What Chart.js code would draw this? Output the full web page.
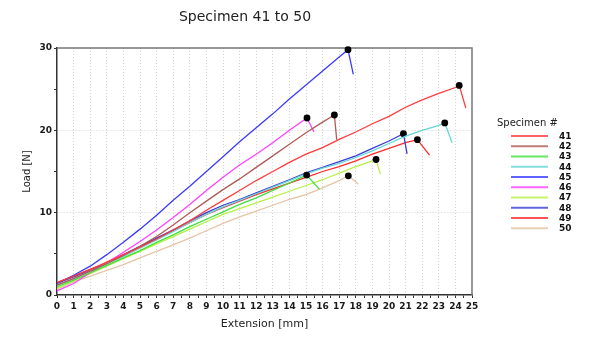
<!DOCTYPE html>
<html>
<head>
<meta charset="utf-8">
<script src="https://cdn.jsdelivr.net/npm/chart.js@4.4.1/dist/chart.umd.min.js"></script>
<style>
html,body{margin:0;padding:0;background:#fff;}
#wrap{width:593px;height:359px;position:relative;}
</style>
</head>
<body>
<div id="wrap"><canvas id="c" width="593" height="359"></canvas></div>
<script>
const chartTitle = 'Specimen 41 to 50';
const legendTitle = 'Specimen #';
const xTitle = 'Extension [mm]';
const yTitle = 'Load [N]';
const specimens = ['41','42','43','44','45','46','47','48','49','50'];
const colors = ['#ff3b3b','#b05a55','#3ee03e','#66d6d6','#3a3aff','#ff40ff','#b8f048','#3c3cd8','#ff2a2a','#e6c4a6'];

const ext41 = [0,1,2,3,4,5,6,7,8,9,10,11,12,13,14,15,16,17,18,19,20,21,22,23,24,24.23,24.63];
const load41 = [1.5,2.3,3.1,4.0,4.9,5.8,6.8,7.9,9.0,10.3,11.5,12.7,13.9,15.0,16.1,17.1,17.9,18.9,19.8,20.8,21.7,22.8,23.7,24.5,25.2,25.46,22.7];
const ext42 = [0,1,2,3,4,5,6,7,8,9,10,11,12,13,14,15,16,16.71,16.85];
const load42 = [1.2,2.0,2.9,3.8,4.8,5.9,7.1,8.5,10.0,11.4,12.8,14.1,15.5,16.9,18.3,19.7,21.0,21.86,18.86];
const ext43 = [0,1,2,3,4,5,6,7,8,9,10,11,12,13,14,15.04,15.8];
const load43 = [1.0,1.8,2.7,3.6,4.5,5.4,6.4,7.3,8.3,9.2,10.1,11.0,11.8,12.7,13.6,14.56,12.86];
const ext44 = [0,1,2,3,4,5,6,7,8,9,10,11,12,13,14,15,16,17,18,19,20,21,22,23,23.36,23.8];
const load44 = [1.2,2.0,2.9,3.8,4.7,5.7,6.7,7.7,8.8,9.8,10.7,11.5,12.3,13.1,13.9,14.7,15.4,16.0,16.7,17.5,18.4,19.3,20.0,20.6,20.9,18.5];
const ext45 = [0,1,2,3,4,5,6,7,8,9,10,11,12,13,14,15,16,17,17.53,17.85];
const load45 = [1.4,2.4,3.5,4.9,6.4,8.0,9.7,11.5,13.2,15.0,16.8,18.6,20.3,22.0,23.8,25.5,27.2,28.9,29.8,26.8];
const ext46 = [0,1,2,3,4,5,6,7,8,9,10,11,12,13,14,15.06,15.48];
const load46 = [0.5,1.4,2.7,3.9,5.2,6.5,7.9,9.4,11.0,12.7,14.3,15.8,17.1,18.5,20.0,21.5,19.8];
const ext47 = [0,1,2,3,4,5,6,7,8,9,10,11,12,13,14,15,16,17,18,19,19.22,19.48];
const load47 = [0.8,1.7,2.6,3.5,4.4,5.3,6.2,7.1,8.0,8.9,9.8,10.5,11.2,11.9,12.6,13.3,14.0,14.8,15.6,16.3,16.46,14.68];
const ext48 = [0,1,2,3,4,5,6,7,8,9,10,11,12,13,14,15,16,17,18,19,20,20.87,21.09];
const load48 = [1.4,2.2,3.0,3.9,4.9,5.9,6.9,7.9,9.0,10.0,10.9,11.6,12.4,13.2,14.0,14.85,15.5,16.2,16.9,17.8,18.7,19.6,17.15];
const ext49 = [0,1,2,3,4,5,6,7,8,9,10,11,12,13,14,15,16,17,18,19,20,21,21.71,22.44];
const load49 = [1.5,2.3,3.1,3.9,4.8,5.8,6.8,7.8,8.8,9.8,10.6,11.4,12.2,12.9,13.6,14.3,15.0,15.6,16.3,17.1,17.8,18.5,18.86,17.0];
const ext50 = [0,1,2,3,4,5,6,7,8,9,10,11,12,13,14,15,16,17,17.55,18.15];
const load50 = [0.7,1.6,2.3,3.0,3.7,4.5,5.3,6.1,6.9,7.8,8.7,9.5,10.2,10.9,11.6,12.2,13.0,13.9,14.48,13.47];

const exts = [ext41,ext42,ext43,ext44,ext45,ext46,ext47,ext48,ext49,ext50];
const loads = [load41,load42,load43,load44,load45,load46,load47,load48,load49,load50];

const xMin = 0, xMax = 25, xStep = 0.5;
const yMin = 0, yMax = 30, yStep = 5;

const FONT = 'DejaVu Sans';

const datasets = specimens.map((s, i) => {
  const pts = exts[i].map((x, j) => ({x: x, y: loads[i][j]}));
  const peak = pts.length - 2;
  return {
    label: s,
    data: pts,
    borderColor: colors[i],
    backgroundColor: colors[i],
    borderWidth: 1.3,
    showLine: true,
    tension: 0,
    clip: false,
    pointRadius: ctx => ctx.dataIndex === peak ? 3.4 : 0,
    pointHoverRadius: 0,
    pointBackgroundColor: '#000',
    pointBorderColor: '#000',
    pointBorderWidth: 0
  };
});

const decor = {
  id: 'decor',
  beforeDatasetsDraw(chart) {
    const {ctx, chartArea: a} = chart;
    ctx.save();
    ctx.strokeStyle = '#777';
    ctx.lineWidth = 1.5;
    ctx.beginPath();
    ctx.moveTo(a.left, a.top);
    ctx.lineTo(a.right, a.top);
    ctx.lineTo(a.right, a.bottom);
    ctx.stroke();
    ctx.restore();
  },
  afterDraw(chart) {
    const {ctx} = chart;
    ctx.save();
    ctx.fillStyle = '#222';
    ctx.font = '14px "' + FONT + '"';
    ctx.textAlign = 'center';
    ctx.textBaseline = 'middle';
    ctx.fillText(chartTitle, 245, 17);
    // legend
    ctx.font = '10px "' + FONT + '"';
    ctx.textAlign = 'left';
    ctx.fillStyle = '#222';
    ctx.fillText(legendTitle, 497, 123);
    chart.data.datasets.forEach((d, i) => {
      const y = 136 + i * 10.26;
      ctx.strokeStyle = d.borderColor;
      ctx.globalAlpha = 0.8;
      ctx.lineWidth = 2;
      ctx.beginPath();
      ctx.moveTo(511, y);
      ctx.lineTo(548, y);
      ctx.stroke();
      ctx.globalAlpha = 1;
      ctx.fillStyle = '#111';
      ctx.font = 'bold 9px "' + FONT + '"';
      ctx.fillText(d.label, 559, y + 0.5);
    });
    ctx.restore();
  }
};

new Chart(document.getElementById('c'), {
  type: 'scatter',
  data: {datasets},
  options: {
    responsive: false,
    animation: false,
    events: [],
    layout: {padding: {left: 0, top: 48, right: 121, bottom: 0}},
    plugins: {legend: {display: false}, title: {display: false}, tooltip: {enabled: false}},
    scales: {
      x: {
        type: 'linear',
        min: xMin, max: xMax,
        afterFit(s) { s.height = 64; },
        afterBuildTicks(s) {
          const t = [];
          for (let v = xMin; v <= xMax + 1e-9; v += xStep) t.push({value: Math.round(v * 10) / 10});
          s.ticks = t;
        },
        ticks: {
          autoSkip: false,
          maxRotation: 0,
          padding: 3,
          color: '#1a1a1a',
          font: {family: FONT, size: 9, weight: 'bold'},
          callback: v => Number.isInteger(v) ? String(v) : ''
        },
        grid: {
          color: ctx => (ctx.tick && Number.isInteger(ctx.tick.value) && ctx.tick.value > xMin && ctx.tick.value < xMax) ? '#d4d4d4' : 'rgba(0,0,0,0)',
          lineWidth: 1,
          tickLength: 3,
          tickColor: '#333',
          tickWidth: 1
        },
        border: {display: true, color: '#333', width: 1.5, dash: [1, 2]},
        title: {display: true, text: xTitle, color: '#222', font: {family: FONT, size: 11}, padding: {top: 0, bottom: 28.4}}
      },
      y: {
        type: 'linear',
        min: yMin, max: yMax,
        afterFit(s) { s.width = 57; },
        ticks: {
          stepSize: yStep,
          autoSkip: false,
          padding: 2,
          color: '#1a1a1a',
          font: {family: FONT, size: 9, weight: 'bold'},
          callback: v => v % 10 === 0 ? String(v) : ''
        },
        grid: {
          color: ctx => (ctx.tick && ctx.tick.value % 10 === 0 && ctx.tick.value > yMin && ctx.tick.value < yMax) ? '#d4d4d4' : 'rgba(0,0,0,0)',
          lineWidth: 1,
          tickLength: 3,
          tickColor: '#333',
          tickWidth: 1
        },
        border: {display: true, color: '#333', width: 1.5, dash: [1, 2]},
        title: {display: true, text: yTitle, color: '#222', font: {family: FONT, size: 10}, padding: {top: 21, bottom: 0}}
      }
    }
  },
  plugins: [decor]
});
</script>
</body>
</html>
